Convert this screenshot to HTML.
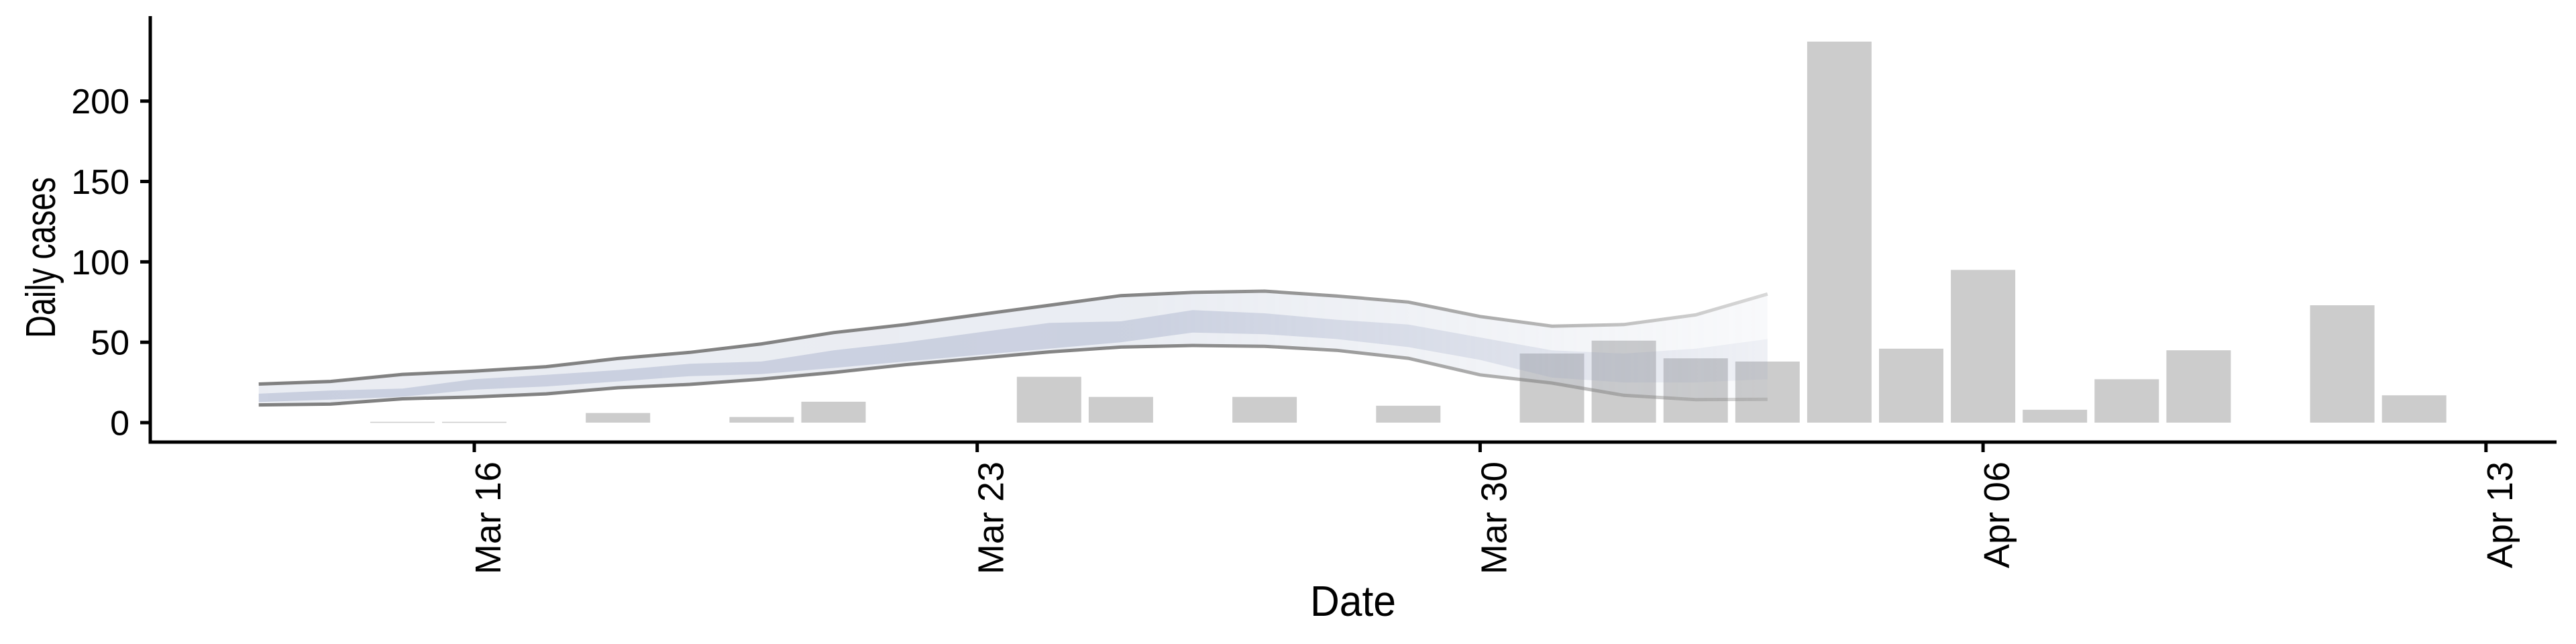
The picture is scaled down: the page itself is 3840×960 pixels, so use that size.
<!DOCTYPE html>
<html><head><meta charset="utf-8"><style>
html,body{margin:0;padding:0;background:#fff;}
svg{display:block;font-family:"Liberation Sans",Arial,sans-serif;}
</style></head>
<body>
<svg id="chart" width="3840" height="960" viewBox="0 0 3840 960" xmlns="http://www.w3.org/2000/svg">
<defs>
<linearGradient id="fadeFill" gradientUnits="userSpaceOnUse" x1="224" y1="0" x2="2640" y2="0">
<stop offset="0" stop-color="#fff" stop-opacity="1"/>
<stop offset="0.62" stop-color="#fff" stop-opacity="0.95"/>
<stop offset="0.85" stop-color="#fff" stop-opacity="0.6"/>
<stop offset="1" stop-color="#fff" stop-opacity="0.3"/>
</linearGradient>
<mask id="fadeMask" maskUnits="userSpaceOnUse" x="0" y="0" width="3840" height="960">
<rect x="0" y="0" width="3840" height="960" fill="url(#fadeFill)"/>
</mask>
</defs>
<g id="bars"></g>
<g id="band" mask="url(#fadeMask)"></g>
<g id="axes"></g>
</svg>
<script>
// ---- data ----
const barDates = ["Mar 15","Mar 16","Mar 18","Mar 20","Mar 21","Mar 24","Mar 25","Mar 27","Mar 29","Mar 31","Apr 1","Apr 2","Apr 3","Apr 4","Apr 5","Apr 6","Apr 7","Apr 8","Apr 9","Apr 11","Apr 12"];
const barValues = [0.5,0.5,6,3.5,13,28.5,16,16,10.5,43,51,40,38,237,46,95,8,27,45,73,17];
const bandDates = ["Mar 13","Mar 14","Mar 15","Mar 16","Mar 17","Mar 18","Mar 19","Mar 20","Mar 21","Mar 22","Mar 23","Mar 24","Mar 25","Mar 26","Mar 27","Mar 28","Mar 29","Mar 30","Mar 31","Apr 1","Apr 2","Apr 3"];
const upper90 = [24,25.6,30,32,34.8,39.9,43.7,49,56,61,67,73,79,81,81.8,78.8,75,66,60,61,67,80];
const lower90 = [11,11.5,14.8,16,17.9,21.7,23.8,27.1,31.2,36,40,44,47,48,47.5,45,40,29.7,24.6,17,14.3,14.5];
const upper50 = [18,20,21.2,27,29.7,32.7,36.6,38,45,50,56,62,63,70,68,64,61,53,45,43,46,52];
const lower50 = [12.8,14.3,16.1,20.5,22.5,25.6,28.9,30.2,34,38,42,46,50,56,55,52,47,39,28,25,25,27];
const yTicks = [0,50,100,150,200];
const xTickLabels = ["Mar 16","Mar 23","Mar 30","Apr 06","Apr 13"];

// ---- scales ----
const NS = "http://www.w3.org/2000/svg";
const monthStart = {Mar:0, Apr:31};
function dayIndex(s){ const p=s.split(" "); return monthStart[p[0]] + parseInt(p[1],10) - 16; } // Mar 16 = 0
function xScale(s){ return 707 + dayIndex(s)*107.1; }
function yScale(v){ return 630 - v*2.3965; }
function mk(tag, attrs, parent){ const e=document.createElementNS(NS,tag); for(const k in attrs) e.setAttribute(k,attrs[k]); parent.appendChild(e); return e; }

const gBars = document.getElementById('bars');
const gBand = document.getElementById('band');
const gAxes = document.getElementById('axes');
const barW = 96;

barDates.forEach((d,i)=>{
  const y0 = yScale(0), y1 = yScale(barValues[i]);
  const r = mk('rect',{x:xScale(d)-barW/2, y:y1, width:barW, height:Math.max(y0-y1,1.5), fill:'#cccccc'}, gBars);
  
  
});

function areaPath(up, lo){
  let s = bandDates.map((d,i)=>(i?'L':'M')+xScale(d).toFixed(1)+','+yScale(up[i]).toFixed(1)).join(' ');
  for(let i=bandDates.length-1;i>=0;i--) s += ' L'+xScale(bandDates[i]).toFixed(1)+','+yScale(lo[i]).toFixed(1);
  return s+' Z';
}
function linePath(arr){ return bandDates.map((d,i)=>(i?'L':'M')+xScale(d).toFixed(1)+','+yScale(arr[i]).toFixed(1)).join(' '); }

const outer = mk('path',{d:areaPath(upper90,lower90), fill:'#a9b2cc', 'fill-opacity':0.25}, gBand);


const inner = mk('path',{d:areaPath(upper50,lower50), fill:'#8d99bb', 'fill-opacity':0.35}, gBand);


const lu = mk('path',{d:linePath(upper90), fill:'none', stroke:'#7f7f7f', 'stroke-width':5}, gBand);


const ll = mk('path',{d:linePath(lower90), fill:'none', stroke:'#7f7f7f', 'stroke-width':5}, gBand);



// axes
const ya = mk('line',{x1:224,y1:24,x2:224,y2:661.5,stroke:'#000','stroke-width':5}, gAxes);


const xa = mk('line',{x1:221.5,y1:659,x2:3811,y2:659,stroke:'#000','stroke-width':5}, gAxes);



yTicks.forEach(v=>{
  const y = yScale(v);
  const t = mk('line',{x1:209,y1:y,x2:224,y2:y,stroke:'#000','stroke-width':5}, gAxes);
  
  
  const l = mk('text',{x:193,y:y+18.5,'text-anchor':'end','font-size':52,fill:'#000'}, gAxes);
  l.textContent = String(v);
  
  
});

xTickLabels.forEach(s=>{
  const x = xScale(s.replace(' 0',' '));
  const t = mk('line',{x1:x,y1:659,x2:x,y2:674,stroke:'#000','stroke-width':5}, gAxes);
  
  
  const bx = x+39, by = 688;
  const l = mk('text',{x:bx,y:by,'text-anchor':'end','font-size':54,fill:'#000',transform:'rotate(-90 '+bx+' '+by+')'}, gAxes);
  l.textContent = s;
  
  
});

const yt = mk('text',{x:82,y:384,'text-anchor':'middle','font-size':62,textLength:240,lengthAdjust:'spacingAndGlyphs',fill:'#000',transform:'rotate(-90 82 384)'}, gAxes);
yt.textContent = 'Daily cases';


const xt = mk('text',{x:2017,y:918,'text-anchor':'middle','font-size':64,textLength:128,lengthAdjust:'spacingAndGlyphs',fill:'#000'}, gAxes);
xt.textContent = 'Date';


</script>
</body></html>
